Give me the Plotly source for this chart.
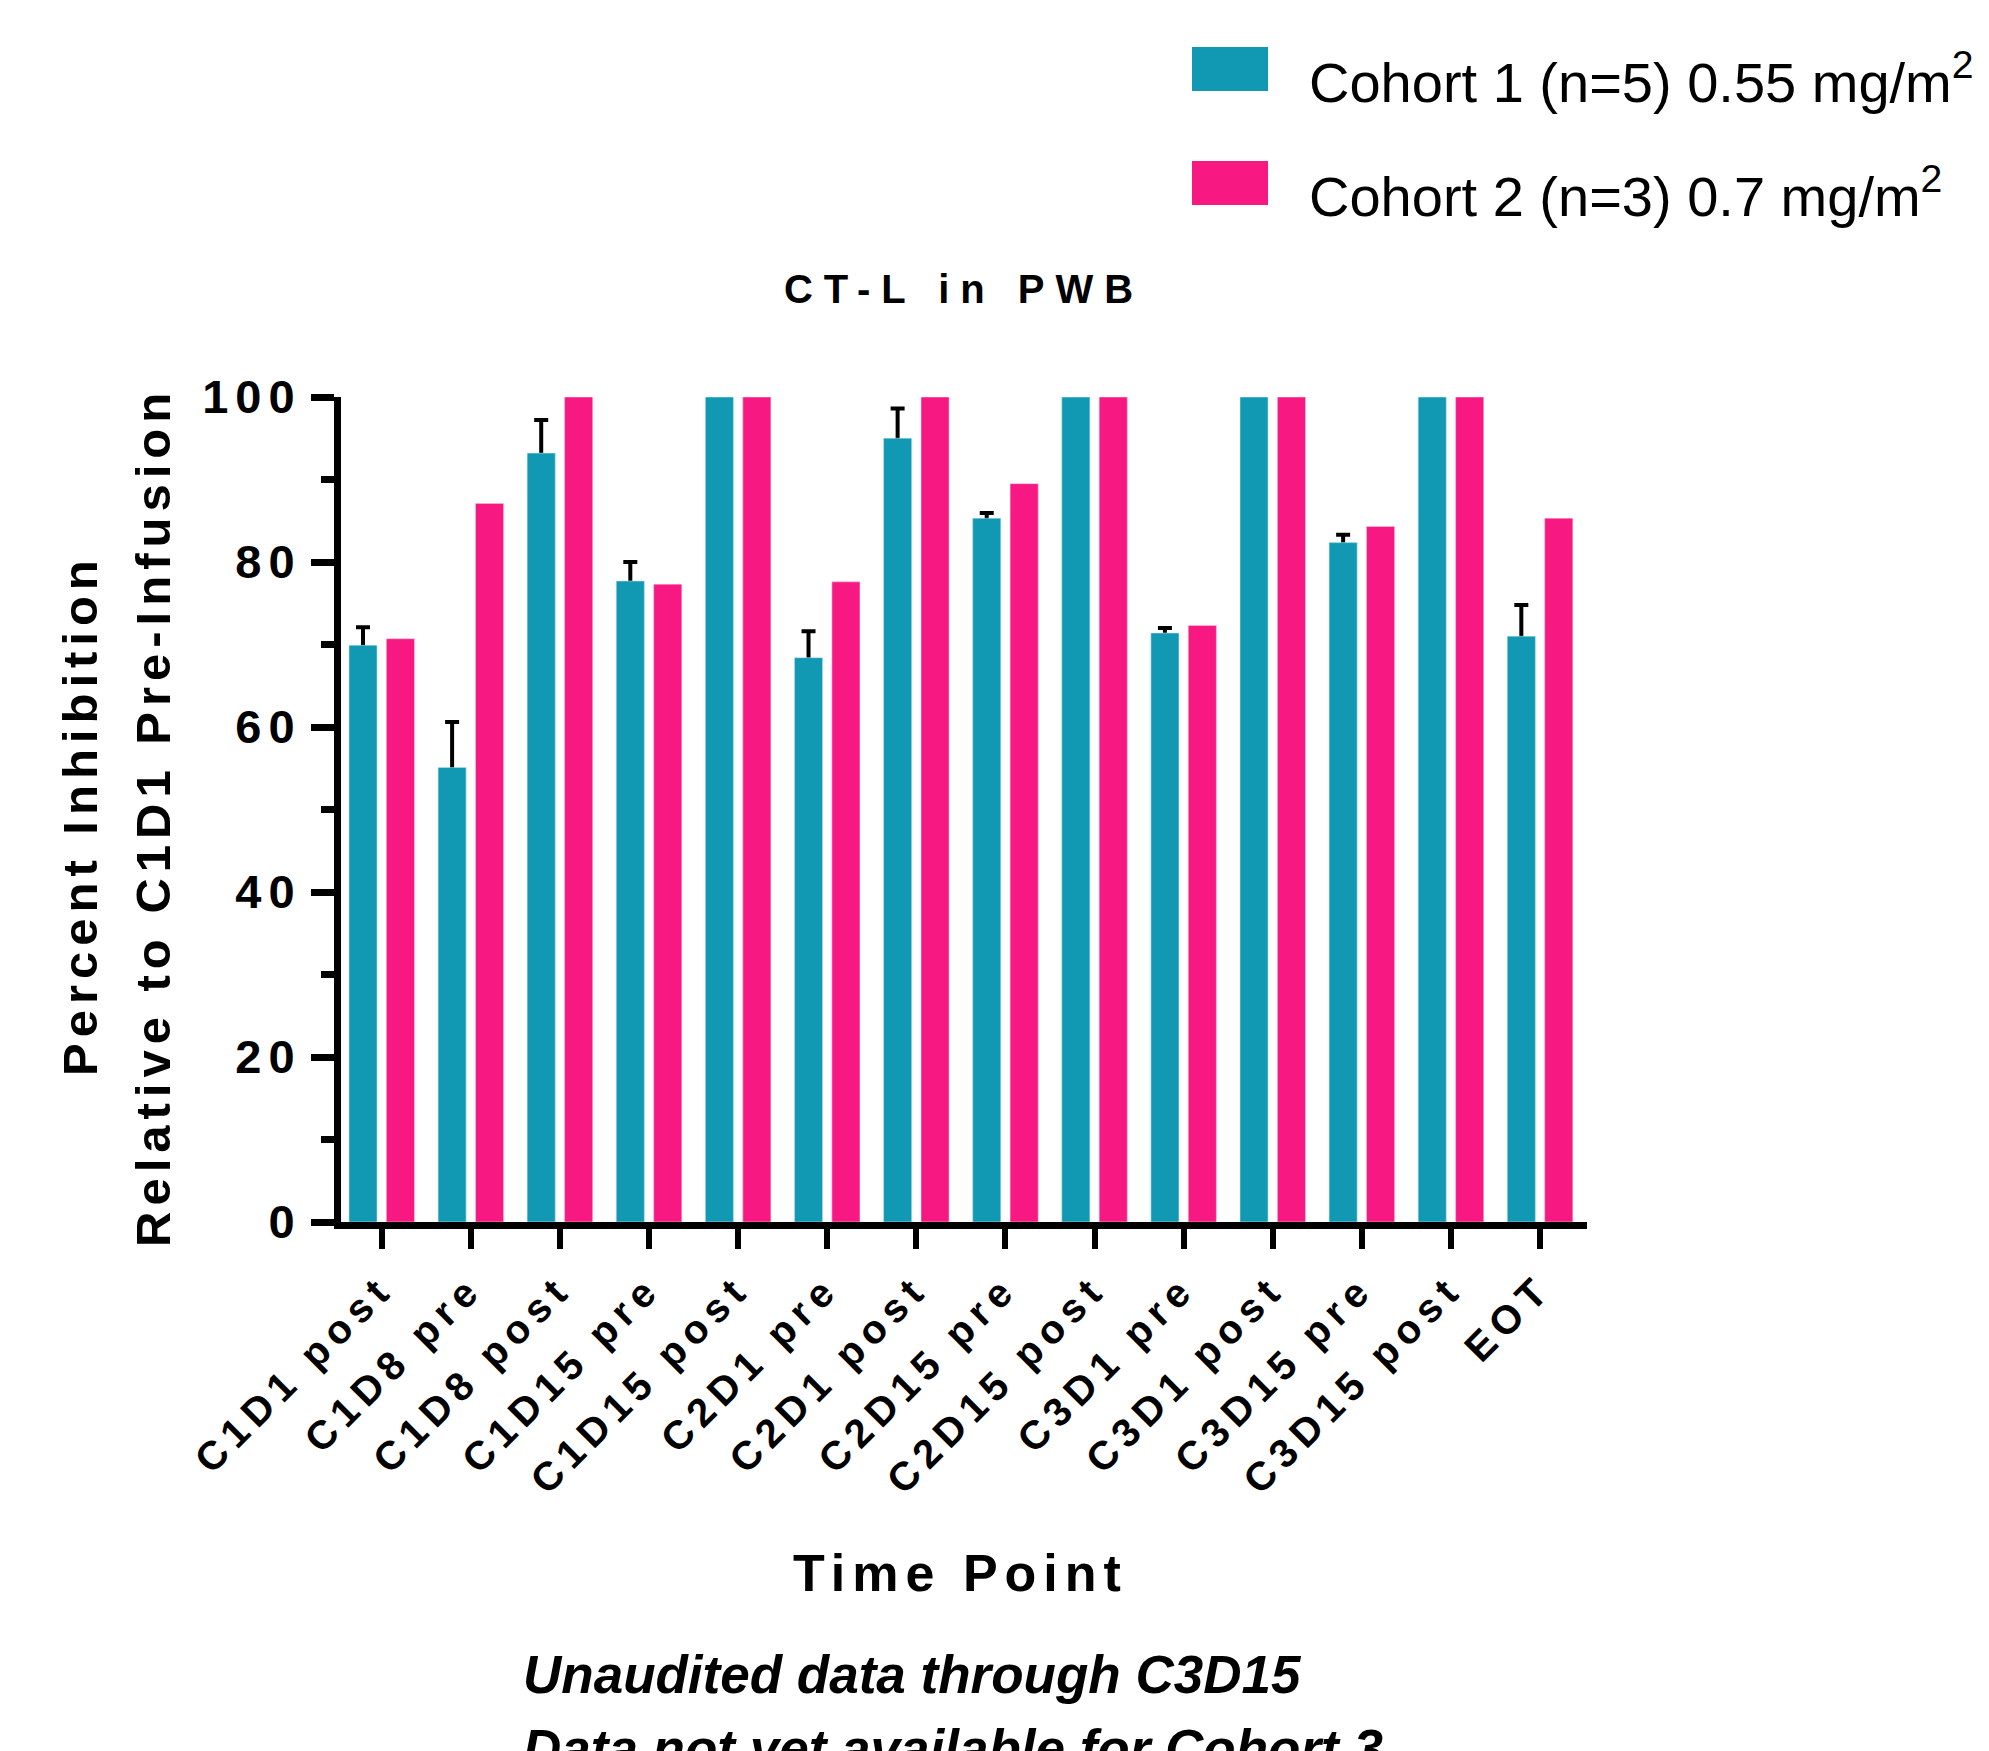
import plotly.graph_objects as go

# ---------------- data ----------------
categories = ["C1D1 post", "C1D8 pre", "C1D8 post", "C1D15 pre", "C1D15 post",
              "C2D1 pre", "C2D1 post", "C2D15 pre", "C2D15 post", "C3D1 pre",
              "C3D1 post", "C3D15 pre", "C3D15 post", "EOT"]
cohort1_mean = [69.9, 55.1, 93.2, 77.7, 100, 68.4, 95.0, 85.3, 100, 71.4, 100, 82.35, 100, 71.0]
cohort1_err = [2.2, 5.5, 4.0, 2.3, None, 3.2, 3.6, 0.65, None, 0.6, None, 0.95, None, 3.8]
cohort2_mean = [70.7, 87.1, 100, 77.3, 100, 77.6, 100, 89.5, 100, 72.3, 100, 84.3, 100, 85.3]
y_ticks = [0, 20, 40, 60, 80, 100]
y_minor_ticks = [10, 30, 50, 70, 90]

name1 = "Cohort 1 (n=5) 0.55 mg/m<sup>2</sup>"
name2 = "Cohort 2 (n=3) 0.7 mg/m<sup>2</sup>"
title_text = "CT-L in PWB"
ytitle1 = "Percent Inhibition"
ytitle2 = "Relative to C1D1 Pre-Infusion"
xtitle = "Time Point"
note1 = "Unaudited data through C3D15"
note2 = "Data not yet available for Cohort 3"

TEAL = "#1199B4"
PINK = "#F81882"
FONT = "Liberation Sans, Arial, sans-serif"

# ---------------- geometry helpers ----------------
W, H = 1989, 1751
L, R, T, B = 341, 1587, 397, 1222


def xp(px):
    return (px - L) / (R - L)


def yp(py):
    return (B - py) / (B - T)


err_plot = [("NaN" if e is None else e) for e in cohort1_err]

fig = go.Figure()
# base bars carrying the error bars
fig.add_trace(go.Bar(x=categories, y=cohort1_mean, name=name1, marker_color=TEAL,
                     offsetgroup="c1", showlegend=False,
                     error_y=dict(type="data", array=err_plot, symmetric=True,
                                  color="black", thickness=4, width=7)))
fig.add_trace(go.Bar(x=categories, y=cohort2_mean, name=name2, marker_color=PINK,
                     offsetgroup="c2", showlegend=False))
# overlay bars hide the lower half of the error bars (upward-only error bars)
fig.add_trace(go.Bar(x=categories, y=cohort1_mean, name=name1, marker_color=TEAL,
                     marker_line=dict(width=1, color="rgba(255,255,255,0.45)"),
                     offsetgroup="c1", showlegend=False, xaxis="x2", yaxis="y2"))
fig.add_trace(go.Bar(x=categories, y=cohort2_mean, name=name2, marker_color=PINK,
                     marker_line=dict(width=1, color="rgba(255,255,255,0.45)"),
                     offsetgroup="c2", showlegend=False, xaxis="x2", yaxis="y2"))

tick_font_x = dict(family=FONT, size=40, color="black", weight="bold")
tick_font_y = dict(family=FONT, size=47, color="black", weight="bold")
x_range = [-0.457, len(categories) - 0.473]

fig.update_layout(
    width=W, height=H,
    margin=dict(l=L, r=W - R, t=T, b=H - B, autoexpand=False),
    paper_bgcolor="white", plot_bgcolor="white",
    barmode="group", bargap=0.16, bargroupgap=0.25,
    showlegend=False,
    title=dict(text=title_text, x=xp(964), xref="paper", xanchor="center",
               y=1 - 289 / H, yref="container", yanchor="middle",
               font=dict(family=FONT, size=40, color="black", weight="bold")),
    xaxis=dict(type="category", categoryorder="array", categoryarray=categories,
               range=x_range,
               showline=True, linewidth=7, linecolor="black",
               ticks="outside", ticklen=20, tickwidth=6, tickcolor="black",
               tickangle=-45, tickfont=tick_font_x,
               showgrid=False, zeroline=False, fixedrange=True),
    yaxis=dict(range=[0, 100], tickvals=y_ticks, ticktext=[str(v) for v in y_ticks],
               showline=True, linewidth=7, linecolor="black",
               ticks="outside", ticklen=23, tickwidth=7, tickcolor="black",
               tickfont=tick_font_y,
               minor=dict(tickvals=y_minor_ticks, ticks="outside", ticklen=13,
                          tickwidth=7, tickcolor="black", showgrid=False),
               showgrid=False, zeroline=False, fixedrange=True),
    xaxis2=dict(type="category", overlaying="x", matches="x", visible=False,
                categoryorder="array", categoryarray=categories),
    yaxis2=dict(overlaying="y", matches="y", visible=False, range=[0, 100]),
)

annotations = [
    dict(text=ytitle1, x=xp(80), y=yp(815), textangle=-90,
         font=dict(family=FONT, size=49, color="black", weight="bold")),
    dict(text=ytitle2, x=xp(153), y=yp(817), textangle=-90,
         font=dict(family=FONT, size=49, color="black", weight="bold")),
    dict(text=xtitle, x=xp(960), y=yp(1573),
         font=dict(family=FONT, size=52, color="black", weight="bold")),
    dict(text=name1, x=xp(1307), y=yp(79), xanchor="left",
         font=dict(family=FONT, size=56, color="black")),
    dict(text=name2, x=xp(1307), y=yp(193), xanchor="left",
         font=dict(family=FONT, size=56, color="black")),
    dict(text=note1, x=xp(521), y=yp(1674), xanchor="left",
         font=dict(family=FONT, size=53, color="black", weight="bold", style="italic")),
    dict(text=note2, x=xp(521), y=yp(1748), xanchor="left",
         font=dict(family=FONT, size=53, color="black", weight="bold", style="italic")),
]
for a in annotations:
    a.update(xref="paper", yref="paper", showarrow=False)
    a.setdefault("xanchor", "center")
    a.setdefault("yanchor", "middle")
fig.update_layout(annotations=annotations)

# legend swatches
for color, (top, bot) in [(TEAL, (47, 91)), (PINK, (161, 205))]:
    fig.add_shape(type="rect", xref="paper", yref="paper",
                  x0=xp(1192), x1=xp(1268), y0=yp(bot), y1=yp(top),
                  fillcolor=color, line=dict(width=0))

css = (".g-gtitle text{letter-spacing:11px}"
       ".ytick text{letter-spacing:7px}"
       ".xtick text{letter-spacing:7px}"
       ".annotation[data-index='0'] text,.annotation[data-index='1'] text{letter-spacing:6px}"
       ".annotation[data-index='2'] text{letter-spacing:7px}")
post = ("var s=document.createElement('style');s.textContent=\"" + css +
        "\";document.head.appendChild(s);")

fig.write_html("out.html", config={"displayModeBar": False}, post_script=post)
